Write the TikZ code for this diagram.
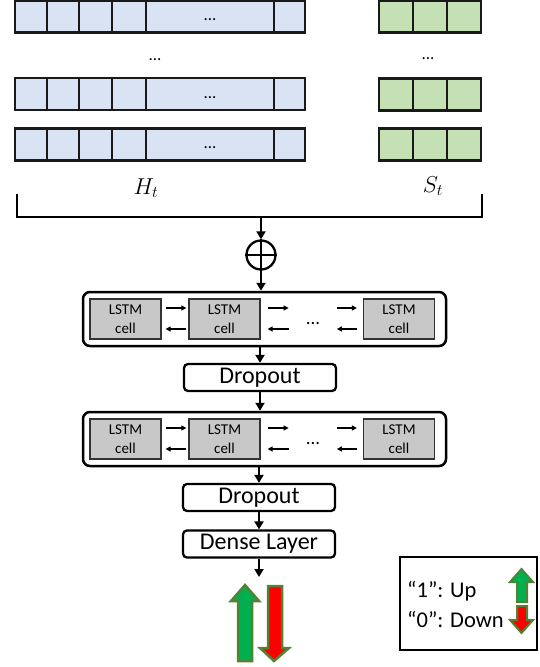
\RequirePackage{fix-cm}
\documentclass[tikz,border=0pt]{standalone}
\usepackage{fontspec}
\setmainfont{Carlito}
\usetikzlibrary{arrows.meta}
\definecolor{hblue}{HTML}{DAE3F3}
\definecolor{sgreen}{HTML}{C5E0B4}
\definecolor{cellgray}{HTML}{C8C8C8}
\definecolor{upgreen}{HTML}{00B050}
\definecolor{rimgreen}{HTML}{548235}
\tikzset{
	rowline/.style={draw=black!90, line width=2.6pt},
	layer/.style={draw, line width=2.5pt, rounded corners=7pt, fill=white, minimum width=363pt, minimum height=54pt, inner sep=0pt},
	lstmcell/.style={draw=black!80, line width=1.2pt, fill=cellgray, minimum width=71pt, minimum height=40pt, inner sep=0pt, align=center, font=\fontsize{15}{19}\selectfont},
	opbox/.style={draw, line width=2.3pt, rounded corners=4pt, fill=white, minimum width=152pt, minimum height=27pt, inner sep=0pt, font=\fontsize{24}{24}\selectfont},
	flow/.style={line width=2pt, -{Triangle[length=8pt,width=9pt]}},
	rec/.style={line width=1.4pt, -{Triangle[length=5pt,width=5pt]}},
	bigarrow/.style={draw=rimgreen, line width=2.5pt, line join=miter},
	dots/.style={inner sep=0pt, font=\fontsize{17}{17}\selectfont},
	keytext/.style={anchor=base west, inner sep=0pt, font=\fontsize{22.5}{22.5}\selectfont}
}
\begin{document}
\begin{tikzpicture}[x=1pt, y=-1pt]
		\useasboundingbox (0,0) rectangle (540,667);
		%H_t rows
		\foreach \y [count=\i] in {0.5, 78, 128.5}{
			\draw[rowline, fill=hblue] (15,\y) rectangle (305,\y+32);
			\foreach \x in {47, 79, 112, 146, 274}
				\draw[rowline] (\x,\y) -- (\x,\y+32);
			\node[dots, anchor=base] (hdots\i) at (210,\y+20) {...};
		}
		%S_t rows
		\foreach \y in {0.5, 78.5, 128.5}{
			\draw[rowline, fill=sgreen] (379,\y) rectangle (481,\y+32);
			\foreach \x in {413, 447}
				\draw[rowline] (\x,\y) -- (\x,\y+32);
		}
		\node[dots, anchor=base] (hmore) at (155,60) {...};
		\node[dots, anchor=base] (smore) at (428,59) {...};
		\node[font=\fontsize{23}{23}\selectfont] (hlabel) at (146,188) {$H_t$};
		\node[font=\fontsize{23}{23}\selectfont] (slabel) at (433,186) {$S_t$};
		%bracket
		\draw[line width=2.5pt] (17,194) -- (17,217) -- (482,217) -- (482,194);
		\coordinate (mid) at (261,217);
		\node[draw, circle, line width=2.3pt, minimum size=29pt, inner sep=0pt] (plus) at (261,255) {};
		\draw[line width=2.3pt] (plus.north) -- (plus.south) (plus.west) -- (plus.east);
		\draw[flow] (mid) -- (plus.north);
		%LSTM layers
		\foreach \n/\y in {A/319, B/439}{
			\node[layer] (layer\n) at (264.5,\y) {};
			\node[lstmcell] (\n1) at (125.5,\y) {LSTM\\cell};
			\node[lstmcell] (\n2) at (224.5,\y) {LSTM\\cell};
			\node[lstmcell] (\n3) at (399,\y) {LSTM\\cell};
			\node[dots, anchor=base, font=\fontsize{19}{19}\selectfont] (\n d) at (313,\y+5) {...};
			\draw[rec] ([xshift=4pt, yshift=11pt]\n1.east) -- ([xshift=-2pt, yshift=11pt]\n2.west);
			\draw[rec] ([xshift=-2pt, yshift=-10pt]\n2.west) -- ([xshift=4pt, yshift=-10pt]\n1.east);
			\draw[rec] ([xshift=7pt, yshift=11pt]\n2.east) -- ([xshift=28pt, yshift=11pt]\n2.east);
			\draw[rec] ([xshift=28pt, yshift=-10pt]\n2.east) -- ([xshift=7pt, yshift=-10pt]\n2.east);
			\draw[rec] ([xshift=-26pt, yshift=11pt]\n3.west) -- ([xshift=-6pt, yshift=11pt]\n3.west);
			\draw[rec] ([xshift=-6pt, yshift=-10pt]\n3.west) -- ([xshift=-26pt, yshift=-10pt]\n3.west);
		}
		\node[opbox] (dropA) at (260,377.5) {Dropout};
		\node[opbox] (dropB) at (259,497.5) {Dropout};
		\node[opbox] (dense) at (259,544) {Dense Layer};
		\coordinate (out) at (259,577);
		\draw[flow] (plus.south) -- (plus.south |- layerA.north);
		\draw[flow] (dropA.north |- layerA.south) -- (dropA.north);
		\draw[flow] (dropA.south) -- (dropA.south |- layerB.north);
		\draw[flow] (dropB.north |- layerB.south) -- (dropB.north);
		\draw[flow] (dropB.south) -- (dense.north);
		\draw[flow] (dense.south) -- (out);
		%output arrows
		\draw[bigarrow, fill=upgreen] (238,661) -- (238,601) -- (231,601) -- (245,585) -- (259,601) -- (252,601) -- (252,661) -- cycle;
		\draw[bigarrow, fill=red] (268,586) -- (282,586) -- (282,648) -- (289,648) -- (274,661) -- (260,648) -- (268,648) -- cycle;
		%legend
		\node[draw, line width=1.2pt, minimum width=137pt, minimum height=93pt, inner sep=0pt] (legend) at (468.5,603.5) {};
		\node[keytext] (upkey) at (407,597) {“1”: Up};
		\node[keytext] (downkey) at (407,627) {“0”: Down};
		\draw[bigarrow, line width=2pt, fill=upgreen] (517,602) -- (517,582) -- (510,582) -- (521.5,569) -- (533,582) -- (527,582) -- (527,602) -- cycle;
		\draw[bigarrow, line width=2pt, fill=red] (517,606) -- (527,606) -- (527,620) -- (533,620) -- (521.5,633) -- (510,620) -- (517,620) -- cycle;
\end{tikzpicture}
\end{document}
